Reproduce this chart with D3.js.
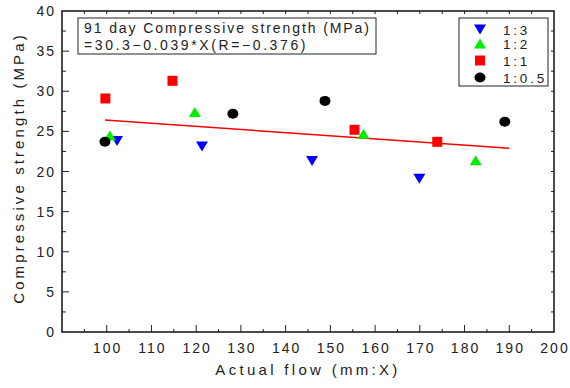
<!DOCTYPE html>
<html>
<head>
<meta charset="utf-8">
<script src="https://cdn.jsdelivr.net/npm/d3@7"></script>
<style>
  body { margin: 0; background: #fff; }
  text { font-family: "Liberation Sans", "DejaVu Sans", sans-serif; fill: #222; }
</style>
</head>
<body>
<svg id="main-svg" width="570" height="388"></svg>
<script>
// series values (flow mm, strength MPa)
var flow13 = [102.3, 121.3, 145.9, 169.9];
var str13  = [23.8, 23.1, 21.3, 19.1];
var flow12 = [100.7, 119.7, 157.4, 182.5];
var str12  = [24.5, 27.4, 24.7, 21.4];
var flow11 = [99.7, 114.7, 155.4, 173.9];
var str11  = [29.1, 31.3, 25.2, 23.7];
var flow105 = [99.6, 128.2, 148.8, 189.0];
var str105  = [23.7, 27.2, 28.8, 26.2];

var seriesNames = ["1:3", "1:2", "1:1", "1:0.5"];
var seriesColors = ["#0000ff", "#00ee00", "#ff0000", "#000000"];
var xTicks = [100, 110, 120, 130, 140, 150, 160, 170, 180, 190, 200];
var yTicks = [0, 5, 10, 15, 20, 25, 30, 35, 40];
var fitA = 30.3, fitB = -0.039;
var fitRange = [99.6, 190];

var svg = d3.select("#main-svg");
var pLeft = 62, pRight = 554, pTop = 11, pBottom = 332;

var x = d3.scaleLinear().domain([90, 200]).range([pLeft, pRight]);
var y = d3.scaleLinear().domain([0, 40]).range([pBottom, pTop]);

var series = [
  {name: seriesNames[0], color: seriesColors[0], xs: flow13, ys: str13, shape: "down"},
  {name: seriesNames[1], color: seriesColors[1], xs: flow12, ys: str12, shape: "up"},
  {name: seriesNames[2], color: seriesColors[2], xs: flow11, ys: str11, shape: "square"},
  {name: seriesNames[3], color: seriesColors[3], xs: flow105, ys: str105, shape: "circle"}
];

function drawMark(g, shape, color) {
  if (shape == "down") {
    g.append("path").attr("d", "M-6,-5L6,-5L0,5Z").attr("fill", color);
  } else if (shape == "up") {
    g.append("path").attr("d", "M-6,5L6,5L0,-5Z").attr("fill", color);
  } else if (shape == "square") {
    g.append("rect").attr("x", -5).attr("y", -5).attr("width", 10).attr("height", 10).attr("fill", color);
  } else {
    g.append("ellipse").attr("rx", 5.5).attr("ry", 5).attr("fill", color);
  }
}

// minor/major ticks on all four sides, pointing inward
var tickG = svg.append("g").attr("stroke", "#222").attr("stroke-width", 1);
d3.range(95, 200, 5).forEach(function(v) {
  var major = v % 10 == 0;
  tickG.append("line").attr("x1", x(v)).attr("x2", x(v)).attr("y1", pBottom).attr("y2", pBottom - (major ? 7 : 3));
  tickG.append("line").attr("x1", x(v)).attr("x2", x(v)).attr("y1", pTop).attr("y2", pTop + 3);
});
d3.range(2.5, 40, 2.5).forEach(function(v) {
  var major = v % 5 == 0;
  tickG.append("line").attr("x1", pLeft).attr("x2", pLeft + (major ? 7 : 4)).attr("y1", y(v)).attr("y2", y(v));
  tickG.append("line").attr("x1", pRight).attr("x2", pRight - 3).attr("y1", y(v)).attr("y2", y(v));
});

// frame
svg.append("rect")
  .attr("x", pLeft).attr("y", pTop)
  .attr("width", pRight - pLeft).attr("height", pBottom - pTop)
  .attr("fill", "none").attr("stroke", "#111").attr("stroke-width", 1.5);

// tick labels
svg.append("g").selectAll("text").data(xTicks).enter().append("text")
  .attr("x", function(d) { return x(d) + 1; })
  .attr("y", 353)
  .attr("text-anchor", "middle")
  .style("font-size", "14px").style("letter-spacing", "2px")
  .text(function(d) { return d; });

svg.append("g").selectAll("text").data(yTicks).enter().append("text")
  .attr("x", 56)
  .attr("y", function(d) { return y(d) + 5; })
  .attr("text-anchor", "end")
  .style("font-size", "14px").style("letter-spacing", "2px")
  .text(function(d) { return d; });

// axis titles
svg.append("text")
  .attr("x", 308).attr("y", 375)
  .attr("text-anchor", "middle")
  .style("font-size", "15px").style("letter-spacing", "3.3px")
  .text("Actual flow (mm:X)");

svg.append("text")
  .attr("transform", "translate(24,168) rotate(-90)")
  .attr("text-anchor", "middle")
  .style("font-size", "15px").style("letter-spacing", "3.1px")
  .text("Compressive strength (MPa)");

// caption cut off by the picture's bottom edge
svg.append("text")
  .attr("x", 245).attr("y", 399)
  .style("font-size", "15px").style("letter-spacing", "3px")
  .text("(c) 91 day");

// regression line
var line = d3.line().x(function(d) { return x(d); }).y(function(d) { return y(fitA + fitB * d); });
svg.append("path")
  .datum(fitRange)
  .attr("d", line)
  .attr("fill", "none").attr("stroke", "#ff0000").attr("stroke-width", 1.5);

// points
series.forEach(function(s) {
  svg.append("g").selectAll("g").data(s.xs).enter().append("g")
    .attr("transform", function(d, i) { return "translate(" + x(d) + "," + y(s.ys[i]) + ")"; })
    .each(function() { drawMark(d3.select(this), s.shape, s.color); });
});

// equation box
svg.append("rect")
  .attr("x", 78).attr("y", 18).attr("width", 298).attr("height", 36)
  .attr("fill", "#fff").attr("stroke", "#222").attr("stroke-width", 1);
svg.append("text").attr("x", 84).attr("y", 33)
  .style("font-size", "14px").style("letter-spacing", "1.9px")
  .text("91 day Compressive strength (MPa)");
svg.append("text").attr("x", 84).attr("y", 50)
  .style("font-size", "14px").style("letter-spacing", "2.6px")
  .text("=30.3\u22120.039*X(R=\u22120.376)");

// legend
var leg = svg.append("g");
leg.append("rect")
  .attr("x", 459).attr("y", 18).attr("width", 89).attr("height", 68)
  .attr("fill", "#fff").attr("stroke", "#222").attr("stroke-width", 1);
var legY = [29.5, 43.5, 60.5, 77.5];
series.forEach(function(s, i) {
  var g = leg.append("g").attr("transform", "translate(480," + legY[i] + ")");
  drawMark(g, s.shape, s.color);
  leg.append("text").attr("x", 503).attr("y", legY[i] + 5)
    .style("font-size", "13.5px").style("letter-spacing", "2.8px")
    .text(s.name);
});
</script>
</body>
</html>
